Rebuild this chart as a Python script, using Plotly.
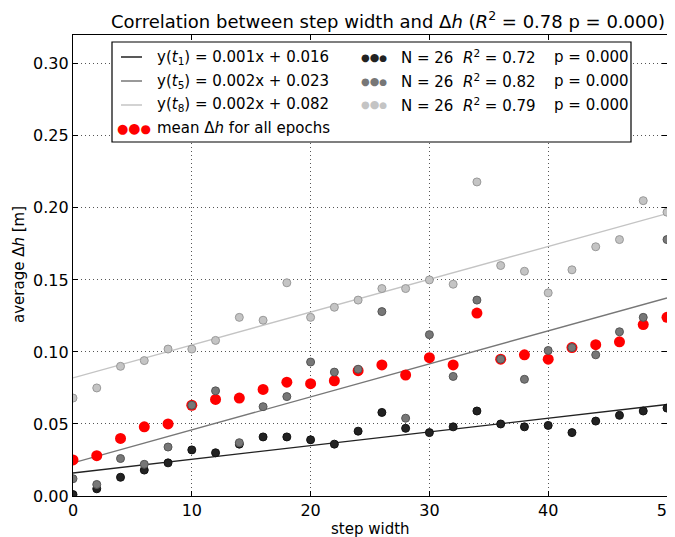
import plotly.graph_objects as go

# ---------------- data ----------------
step_width = list(range(0, 52, 2))
dh_t1 = [0.001, 0.005, 0.013, 0.018, 0.023, 0.032, 0.030, 0.036, 0.041, 0.041, 0.039, 0.036, 0.045,
         0.058, 0.047, 0.044, 0.048, 0.059, 0.050, 0.048, 0.049, 0.044, 0.052, 0.056, 0.059, 0.061]
dh_t5 = [0.012, 0.008, 0.026, 0.022, 0.034, 0.063, 0.073, 0.037, 0.062, 0.069, 0.093, 0.086, 0.088,
         0.128, 0.054, 0.112, 0.083, 0.136, 0.095, 0.081, 0.101, 0.103, 0.098, 0.114, 0.124, 0.178]
dh_t8 = [0.068, 0.075, 0.090, 0.094, 0.102, 0.102, 0.108, 0.124, 0.122, 0.148, 0.124, 0.131, 0.136,
         0.144, 0.144, 0.150, 0.147, 0.218, 0.160, 0.156, 0.141, 0.157, 0.173, 0.178, 0.205, 0.197]
dh_mean = [0.025, 0.028, 0.040, 0.048, 0.050, 0.063, 0.067, 0.068, 0.074, 0.079, 0.078, 0.080, 0.087,
           0.091, 0.084, 0.096, 0.091, 0.127, 0.095, 0.098, 0.095, 0.103, 0.105, 0.107, 0.119, 0.124]
fit_slope = [0.00095, 0.00229, 0.00228]
fit_intercept = [0.016, 0.023, 0.082]
fit_labels = ["y(<i>t</i><sub>1</sub>) = 0.001x + 0.016",
              "y(<i>t</i><sub>5</sub>) = 0.002x + 0.023",
              "y(<i>t</i><sub>8</sub>) = 0.002x + 0.082"]
stat_labels = ["N = 26  <i>R</i><sup>2</sup> = 0.72",
               "N = 26  <i>R</i><sup>2</sup> = 0.82",
               "N = 26  <i>R</i><sup>2</sup> = 0.79"]
p_labels = ["p = 0.000", "p = 0.000", "p = 0.000"]
mean_label = "mean Δ<i>h</i> for all epochs"
title_text = "Correlation between step width and Δ<i>h</i> (<i>R</i><sup>2</sup> = 0.78 p = 0.000)"

series = [dh_t1, dh_t5, dh_t8]
line_colors = ["#222222", "#777777", "#c4c4c4"]
pt_fill = ["#222222", "#777777", "#c4c4c4"]
pt_edge = ["#111111", "#555555", "#999999"]

OFF = 8  # page body margin
W, H = 675 - OFF, 537 - OFF
L, R, T, B = 73 - OFF, 667 - OFF, 35 - OFF, 496 - OFF

def px(xp):
    return (xp - OFF - L) / (R - L)

def py(yp):
    return (B - (yp - OFF)) / (B - T)

fig = go.Figure()
xr = [step_width[0], step_width[-1]]
for s, i0, c in zip(fit_slope, fit_intercept, line_colors):
    fig.add_trace(go.Scatter(x=xr, y=[i0 + s * v for v in xr], mode="lines",
                             line=dict(color=c, width=1.4), showlegend=False, hoverinfo="skip"))
fig.add_trace(go.Scatter(x=step_width, y=dh_mean, mode="markers",
                         marker=dict(color="#ff0000", size=11, line=dict(width=0)), showlegend=False))
for ys, f, e in zip(series, pt_fill, pt_edge):
    fig.add_trace(go.Scatter(x=step_width, y=ys, mode="markers",
                             marker=dict(color=f, size=8, line=dict(color=e, width=1)), showlegend=False))

axis_common = dict(showline=True, linecolor="black", linewidth=1.2, mirror="ticks",
                   ticks="inside", ticklen=5, tickcolor="black", showgrid=True,
                   gridcolor="#555555", griddash="1px,3px", gridwidth=1, zeroline=False,
                   automargin=False,
                   tickfont=dict(family="DejaVu Sans", size=16, color="black"))
fig.update_xaxes(range=[0, 50], dtick=10, ticklabeloverflow="allow", **axis_common)
fig.update_yaxes(range=[0, 0.32], dtick=0.05, tickformat=".2f", **axis_common)

shapes = [dict(type="rect", xref="paper", yref="paper", x0=px(112), x1=px(631), y0=py(142), y1=py(42),
               line=dict(color="black", width=1.2), fillcolor="white", layer="above")]
annotations = []
row_y = [57, 81, 105, 128]
lfont = dict(family="DejaVu Sans", size=15, color="black")
for k in range(3):
    shapes.append(dict(type="line", xref="paper", yref="paper", x0=px(121), x1=px(142),
                       y0=py(row_y[k]), y1=py(row_y[k]), line=dict(color=line_colors[k], width=1.5)))
    annotations.append(dict(xref="paper", yref="paper", x=px(155), y=py(row_y[k]), text=fit_labels[k],
                            showarrow=False, xanchor="left", yanchor="middle", font=lfont))
    dots = ("<span style='font-size:10px'>●</span><span style='font-size:11px'>●</span>"
            "<span style='font-size:9px'>●</span>")
    annotations.append(dict(xref="paper", yref="paper", x=px(359), y=py(row_y[k]), text=dots,
                            showarrow=False, xanchor="left", yanchor="middle",
                            font=dict(family="DejaVu Sans", size=10, color=pt_fill[k])))
    annotations.append(dict(xref="paper", yref="paper", x=px(399), y=py(row_y[k]), text=stat_labels[k],
                            showarrow=False, xanchor="left", yanchor="middle", font=lfont))
    annotations.append(dict(xref="paper", yref="paper", x=px(552), y=py(row_y[k]), text=p_labels[k],
                            showarrow=False, xanchor="left", yanchor="middle", font=lfont))
reddots = ("<span style='font-size:13px'>●</span><span style='font-size:14px'>●</span>"
           "<span style='font-size:12px'>●</span>")
annotations.append(dict(xref="paper", yref="paper", x=px(115), y=py(row_y[3]), text=reddots,
                        showarrow=False, xanchor="left", yanchor="middle",
                        font=dict(family="DejaVu Sans", size=13, color="#ff0000")))
annotations.append(dict(xref="paper", yref="paper", x=px(155), y=py(row_y[3]), text=mean_label,
                        showarrow=False, xanchor="left", yanchor="middle", font=lfont))
annotations.append(dict(xref="paper", yref="paper", x=px(388), y=py(20), text=title_text,
                        showarrow=False, xanchor="center", yanchor="middle",
                        font=dict(family="DejaVu Sans", size=18, color="black")))
annotations.append(dict(xref="paper", yref="paper", x=px(370), y=py(529), text="step width",
                        showarrow=False, xanchor="center", yanchor="middle", font=lfont))
annotations.append(dict(xref="paper", yref="paper", x=px(19), y=py(265), text="average Δ<i>h</i> [m]",
                        showarrow=False, xanchor="center", yanchor="middle", textangle=-90, font=lfont))

fig.update_layout(width=W, height=H, margin=dict(l=L, r=W - R, t=T, b=H - B, autoexpand=False),
                  paper_bgcolor="white", plot_bgcolor="white",
                  shapes=shapes, annotations=annotations, showlegend=False)
fig.write_html("out.html")
